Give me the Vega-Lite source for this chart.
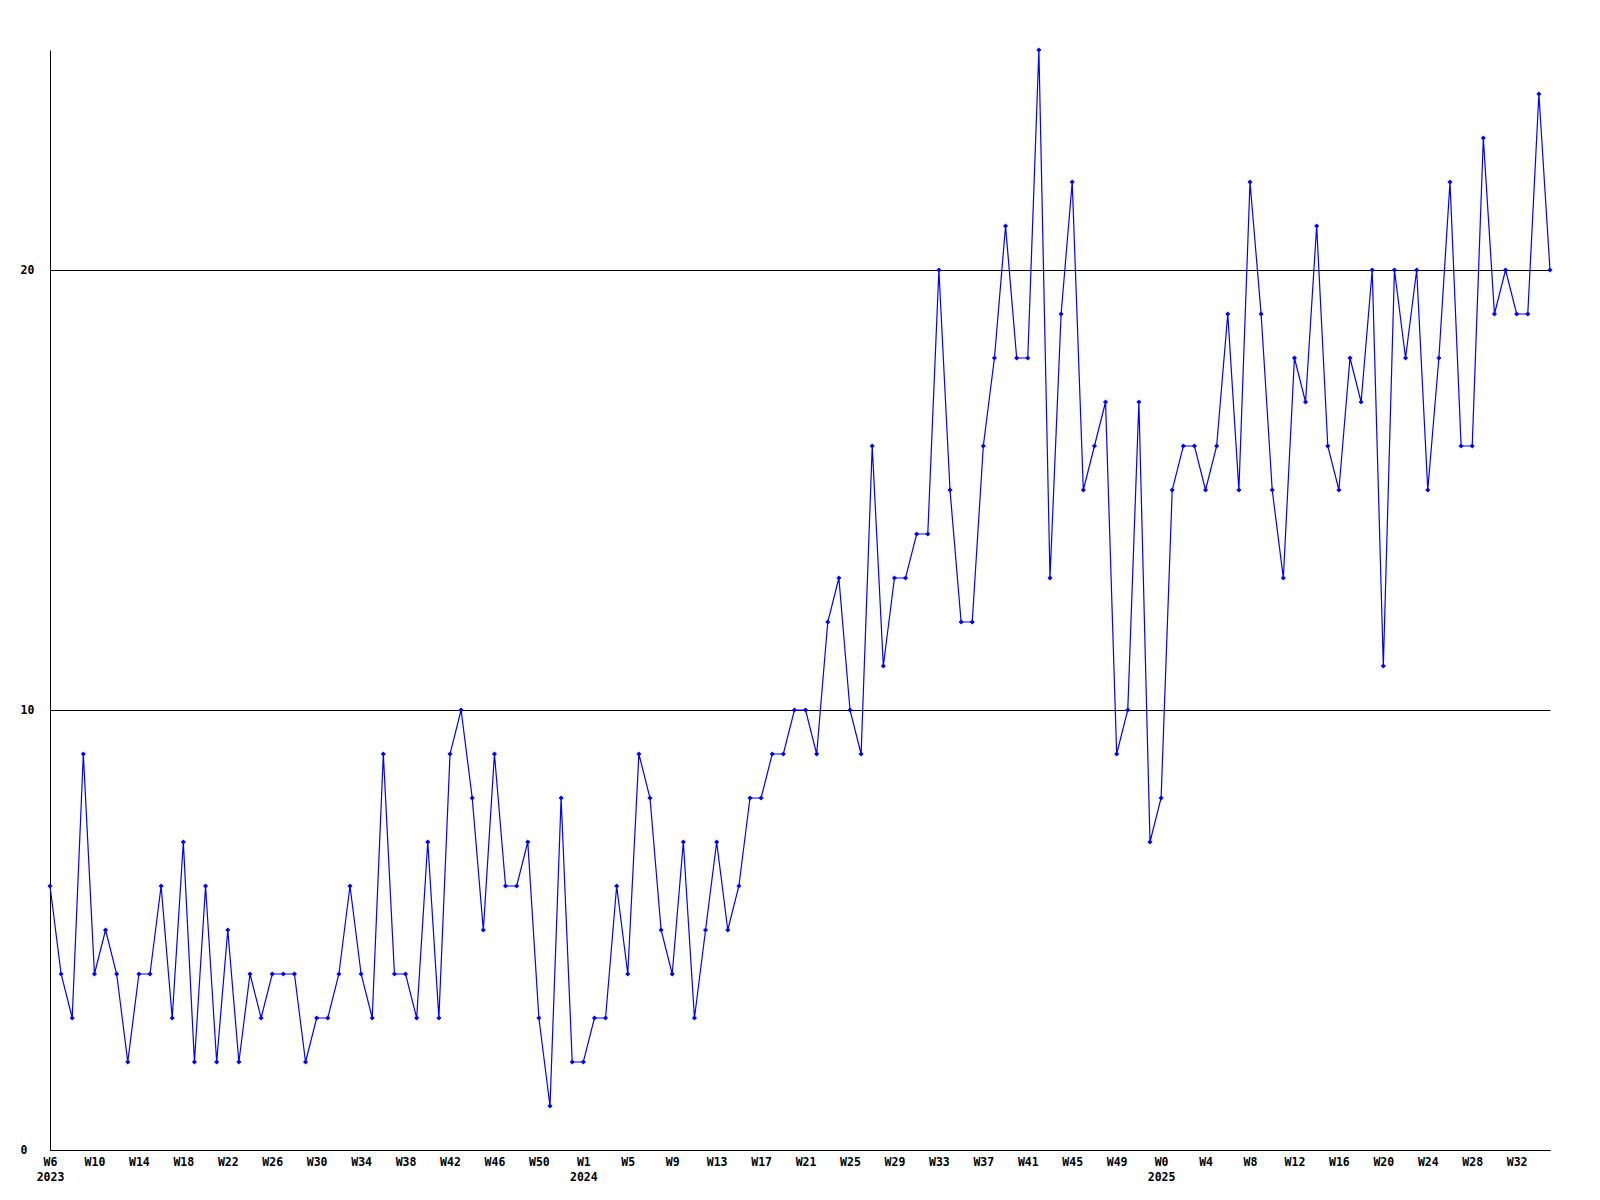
{
  "$schema": "https://vega.github.io/schema/vega-lite/v6.json",
  "width": 1500,
  "height": 1100,
  "autosize": {"type": "none"},
  "padding": {"left": 50, "top": 50, "right": 50, "bottom": 50},
  "background": "white",
  "config": {
    "view": {"stroke": null},
    "axis": {
      "labelFont": "DejaVu Sans Mono",
      "labelFontWeight": "bold",
      "labelFontSize": 11.5,
      "labelColor": "black",
      "domainColor": "black",
      "domainWidth": 1,
      "ticks": false,
      "tickSize": 0,
      "title": null
    }
  },
  "data": {
    "values": [
      {"wk": "2023-06", "v": 6}, {"wk": "2023-07", "v": 4}, {"wk": "2023-08", "v": 3}, {"wk": "2023-09", "v": 9},
      {"wk": "2023-10", "v": 4}, {"wk": "2023-11", "v": 5}, {"wk": "2023-12", "v": 4}, {"wk": "2023-13", "v": 2},
      {"wk": "2023-14", "v": 4}, {"wk": "2023-15", "v": 4}, {"wk": "2023-16", "v": 6}, {"wk": "2023-17", "v": 3},
      {"wk": "2023-18", "v": 7}, {"wk": "2023-19", "v": 2}, {"wk": "2023-20", "v": 6}, {"wk": "2023-21", "v": 2},
      {"wk": "2023-22", "v": 5}, {"wk": "2023-23", "v": 2}, {"wk": "2023-24", "v": 4}, {"wk": "2023-25", "v": 3},
      {"wk": "2023-26", "v": 4}, {"wk": "2023-27", "v": 4}, {"wk": "2023-28", "v": 4}, {"wk": "2023-29", "v": 2},
      {"wk": "2023-30", "v": 3}, {"wk": "2023-31", "v": 3}, {"wk": "2023-32", "v": 4}, {"wk": "2023-33", "v": 6},
      {"wk": "2023-34", "v": 4}, {"wk": "2023-35", "v": 3}, {"wk": "2023-36", "v": 9}, {"wk": "2023-37", "v": 4},
      {"wk": "2023-38", "v": 4}, {"wk": "2023-39", "v": 3}, {"wk": "2023-40", "v": 7}, {"wk": "2023-41", "v": 3},
      {"wk": "2023-42", "v": 9}, {"wk": "2023-43", "v": 10}, {"wk": "2023-44", "v": 8}, {"wk": "2023-45", "v": 5},
      {"wk": "2023-46", "v": 9}, {"wk": "2023-47", "v": 6}, {"wk": "2023-48", "v": 6}, {"wk": "2023-49", "v": 7},
      {"wk": "2023-50", "v": 3}, {"wk": "2023-51", "v": 1}, {"wk": "2023-52", "v": 8}, {"wk": "2023-53", "v": 2},
      {"wk": "2024-01", "v": 2}, {"wk": "2024-02", "v": 3}, {"wk": "2024-03", "v": 3}, {"wk": "2024-04", "v": 6},
      {"wk": "2024-05", "v": 4}, {"wk": "2024-06", "v": 9}, {"wk": "2024-07", "v": 8}, {"wk": "2024-08", "v": 5},
      {"wk": "2024-09", "v": 4}, {"wk": "2024-10", "v": 7}, {"wk": "2024-11", "v": 3}, {"wk": "2024-12", "v": 5},
      {"wk": "2024-13", "v": 7}, {"wk": "2024-14", "v": 5}, {"wk": "2024-15", "v": 6}, {"wk": "2024-16", "v": 8},
      {"wk": "2024-17", "v": 8}, {"wk": "2024-18", "v": 9}, {"wk": "2024-19", "v": 9}, {"wk": "2024-20", "v": 10},
      {"wk": "2024-21", "v": 10}, {"wk": "2024-22", "v": 9}, {"wk": "2024-23", "v": 12}, {"wk": "2024-24", "v": 13},
      {"wk": "2024-25", "v": 10}, {"wk": "2024-26", "v": 9}, {"wk": "2024-27", "v": 16}, {"wk": "2024-28", "v": 11},
      {"wk": "2024-29", "v": 13}, {"wk": "2024-30", "v": 13}, {"wk": "2024-31", "v": 14}, {"wk": "2024-32", "v": 14},
      {"wk": "2024-33", "v": 20}, {"wk": "2024-34", "v": 15}, {"wk": "2024-35", "v": 12}, {"wk": "2024-36", "v": 12},
      {"wk": "2024-37", "v": 16}, {"wk": "2024-38", "v": 18}, {"wk": "2024-39", "v": 21}, {"wk": "2024-40", "v": 18},
      {"wk": "2024-41", "v": 18}, {"wk": "2024-42", "v": 25}, {"wk": "2024-43", "v": 13}, {"wk": "2024-44", "v": 19},
      {"wk": "2024-45", "v": 22}, {"wk": "2024-46", "v": 15}, {"wk": "2024-47", "v": 16}, {"wk": "2024-48", "v": 17},
      {"wk": "2024-49", "v": 9}, {"wk": "2024-50", "v": 10}, {"wk": "2024-51", "v": 17}, {"wk": "2024-52", "v": 7},
      {"wk": "2025-00", "v": 8}, {"wk": "2025-01", "v": 15}, {"wk": "2025-02", "v": 16}, {"wk": "2025-03", "v": 16},
      {"wk": "2025-04", "v": 15}, {"wk": "2025-05", "v": 16}, {"wk": "2025-06", "v": 19}, {"wk": "2025-07", "v": 15},
      {"wk": "2025-08", "v": 22}, {"wk": "2025-09", "v": 19}, {"wk": "2025-10", "v": 15}, {"wk": "2025-11", "v": 13},
      {"wk": "2025-12", "v": 18}, {"wk": "2025-13", "v": 17}, {"wk": "2025-14", "v": 21}, {"wk": "2025-15", "v": 16},
      {"wk": "2025-16", "v": 15}, {"wk": "2025-17", "v": 18}, {"wk": "2025-18", "v": 17}, {"wk": "2025-19", "v": 20},
      {"wk": "2025-20", "v": 11}, {"wk": "2025-21", "v": 20}, {"wk": "2025-22", "v": 18}, {"wk": "2025-23", "v": 20},
      {"wk": "2025-24", "v": 15}, {"wk": "2025-25", "v": 18}, {"wk": "2025-26", "v": 22}, {"wk": "2025-27", "v": 16},
      {"wk": "2025-28", "v": 16}, {"wk": "2025-29", "v": 23}, {"wk": "2025-30", "v": 19}, {"wk": "2025-31", "v": 20},
      {"wk": "2025-32", "v": 19}, {"wk": "2025-33", "v": 19}, {"wk": "2025-34", "v": 24}, {"wk": "2025-35", "v": 20}
    ]
  },
  "encoding": {
    "x": {
      "field": "wk",
      "type": "ordinal",
      "sort": null,
      "scale": {"type": "point", "padding": 0},
      "axis": {
        "values": ["2023-06", "2023-10", "2023-14", "2023-18", "2023-22", "2023-26", "2023-30", "2023-34", "2023-38", "2023-42", "2023-46", "2023-50",
                   "2024-01", "2024-05", "2024-09", "2024-13", "2024-17", "2024-21", "2024-25", "2024-29", "2024-33", "2024-37", "2024-41", "2024-45", "2024-49",
                   "2025-00", "2025-04", "2025-08", "2025-12", "2025-16", "2025-20", "2025-24", "2025-28", "2025-32"],
        "labelExpr": "(datum.value == '2023-06' || datum.value == '2024-01' || datum.value == '2025-00') ? ['W' + toNumber(slice(datum.value, 5)), slice(datum.value, 0, 4)] : 'W' + toNumber(slice(datum.value, 5))",
        "labelAngle": 0,
        "labelAlign": "center",
        "labelBaseline": "top",
        "labelPadding": 6,
        "labelLineHeight": 15,
        "labelOverlap": false,
        "grid": false
      }
    },
    "y": {
      "field": "v",
      "type": "quantitative",
      "scale": {"domain": [0, 25], "nice": false, "zero": true},
      "axis": {
        "values": [0, 10, 20],
        "grid": true,
        "gridColor": "black",
        "gridOpacity": 1,
        "gridWidth": 1,
        "labelAlign": "left",
        "labelBaseline": "middle",
        "labelPadding": 30
      }
    }
  },
  "layer": [
    {"mark": {"type": "line", "color": "#0000ff", "strokeWidth": 1.2}},
    {"mark": {"type": "point", "shape": "diamond", "filled": true, "color": "#0000ff", "size": 26, "opacity": 1}}
  ]
}
